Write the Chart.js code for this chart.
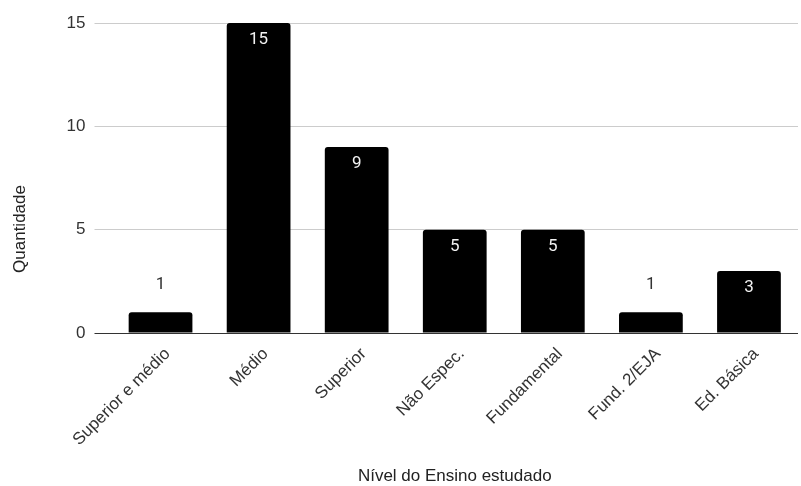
<!DOCTYPE html>
<html>
<head>
<meta charset="utf-8">
<script src="https://cdn.jsdelivr.net/npm/chart.js@4"></script>
<style>
  html, body { margin: 0; padding: 0; background: #fff; }
  #wrap { width: 801px; height: 486px; }
</style>
</head>
<body>
<div id="wrap"><canvas id="nivel_chart" width="801" height="486"></canvas></div>
<script>
// Nível do Ensino estudado x Quantidade
let categorias = ['Superior e médio', 'Médio', 'Superior', 'Não Espec.', 'Fundamental', 'Fund. 2/EJA', 'Ed. Básica'] ;
let quantidade = [1, 15, 9, 5, 5, 1, 3] ;
let yTicks = [0, 5, 10, 15] ;

const fontMain = 'Liberation Sans, Arial, sans-serif' ;

// rotulos dos valores (dentro ou acima da barra)
const valueLabels = {
    id: 'valueLabels',
    afterDatasetsDraw (chart) {
        let ctx = chart.ctx ;
        let meta = chart.getDatasetMeta(0) ;
        ctx.save() ;
        ctx.font = '17px Roboto' ;
        ctx.textAlign = 'center' ;
        ctx.textBaseline = 'middle' ;
        meta.data.forEach((bar, i) => {
            let h = bar.base - bar.y ;
            if (h < 35) {
                ctx.fillStyle = '#333' ;
                ctx.fillText(String(quantidade[i]), bar.x, bar.y - 28) ;
            } else {
                ctx.fillStyle = '#f2f2f2' ;
                ctx.fillText(String(quantidade[i]), bar.x, bar.y + 17) ;
            }
        }) ;
        ctx.restore() ;
    }
} ;

// titulo do eixo y, centrado como no original
const yTitle = {
    id: 'yTitle',
    afterDraw (chart) {
        let ctx = chart.ctx ;
        ctx.save() ;
        ctx.translate(20, 229) ;
        ctx.rotate(-Math.PI / 2) ;
        ctx.font = '17px ' + fontMain ;
        ctx.fillStyle = '#222' ;
        ctx.textAlign = 'center' ;
        ctx.textBaseline = 'middle' ;
        ctx.fillText('Quantidade', 0, 0) ;
        ctx.restore() ;
    }
} ;

let ctx_nivel = document.getElementById('nivel_chart').getContext('2d') ;
let nivel_chart = new Chart(ctx_nivel, {
    type: 'bar',
    data: {
        labels: categorias,
        datasets: [{
            data: quantidade,
            backgroundColor: '#000',
            borderRadius: 3,
            barPercentage: 0.65,
            categoryPercentage: 1.0,
        }]
    },
    options: {
        responsive: false,
        animation: false,
        devicePixelRatio: 1,
        layout: { padding: { top: 23, right: 3, bottom: 0, left: 0 } },
        plugins: {
            legend: { display: false },
            tooltip: { enabled: false },
        },
        scales: {
            x: {
                grid: { display: false },
                border: { display: false },
                ticks: {
                    color: '#333',
                    font: { family: fontMain, size: 17 },
                    maxRotation: 45,
                    minRotation: 45,
                    padding: 3,
                    labelOffset: 7,
                    autoSkip: false,
                },
                title: {
                    display: true,
                    text: 'Nível do Ensino estudado',
                    color: '#222',
                    font: { family: fontMain, size: 17 },
                    padding: { top: 0, bottom: -1 },
                },
                afterFit: function (scale) { scale.height = 153 ; },
            },
            y: {
                min: 0,
                max: 15,
                afterBuildTicks: function (scale) {
                    scale.ticks = yTicks.map(v => ({ value: v })) ;
                },
                grid: {
                    color: (c) => c.tick && c.tick.value === 0 ? '#333' : '#ccc',
                    tickLength: 17,
                    drawTicks: true,
                },
                border: { display: false },
                ticks: {
                    color: '#333',
                    font: { family: fontMain, size: 17 },
                    padding: 9,
                },
                afterFit: function (scale) { scale.width = 111.5 ; },
            }
        }
    },
    plugins: [valueLabels, yTitle]
}) ;
</script>
</body>
</html>
